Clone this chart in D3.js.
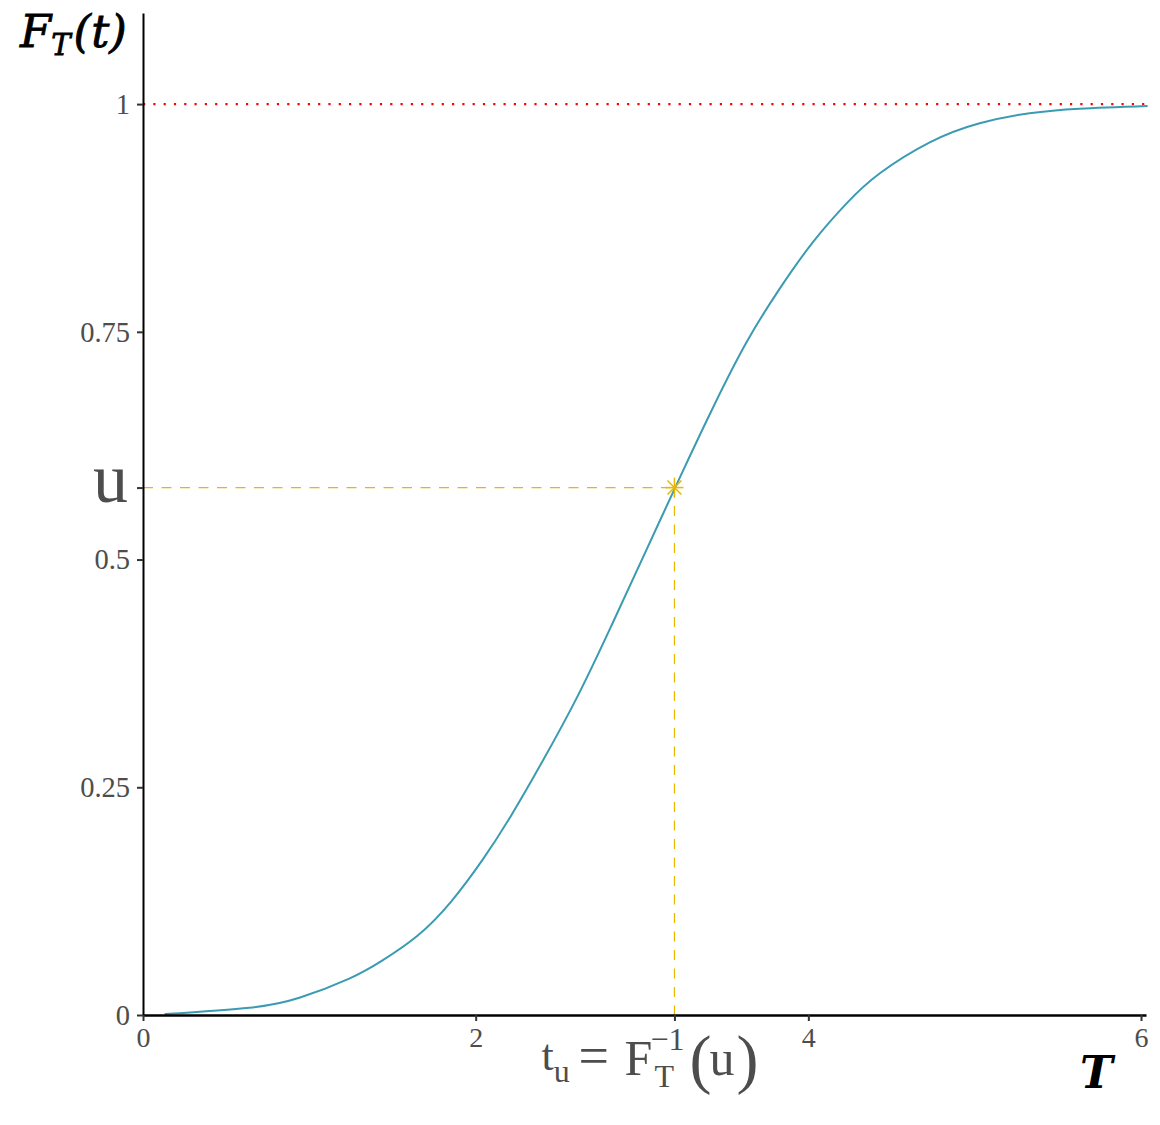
<!DOCTYPE html>
<html><head><meta charset="utf-8">
<script src="https://cdn.jsdelivr.net/npm/d3@7"></script>
<style>body{margin:0;background:#fff}</style>
</head><body><svg id="c" width="1160" height="1125"></svg>
<script>
// Curve
const curveT = [0.13,0.64,0.94,1.24,1.44,1.65,1.85,2.04,2.21,2.40,2.61,2.81,3.01,3.23,3.43,3.63,3.83,4.03,4.23,4.43,4.73,5.03,5.33,5.63,6.04];
const curveF = [0.001,0.008,0.019,0.040,0.060,0.087,0.124,0.170,0.218,0.278,0.349,0.425,0.504,0.591,0.668,0.739,0.798,0.849,0.891,0.924,0.958,0.979,0.990,0.995,0.998];
const xTicks = [0,2,4,6];
const xTickLabels = ["0","2","4","6"];
const yTicks = [0,0.25,0.5,0.75,1];
const yTickLabels = ["0","0.25","0.5","0.75","1"];
const pointT = [3.195];
const pointU = [0.579];
const refLevel = [1];

const svg = d3.select("#c");
const x = d3.scaleLinear().domain([0,6.03]).range([143,1146]);
const y = d3.scaleLinear().domain([0,1.1]).range([1015,13]);
const serif = "'Liberation Serif','Times New Roman',serif";
const mathSerif = "'DejaVu Serif',serif";
const gray = "#4d4d4d";

// reference dotted line
svg.selectAll(".ref").data(refLevel).enter().append("line")
  .attr("x1",x(0)).attr("x2",x.range()[1]).attr("y1",d=>y(d)).attr("y2",d=>y(d))
  .attr("stroke","#ff0000").attr("stroke-width",2.2).attr("stroke-dasharray","2.2,8.1");

// dashed guides
const gold = "#E7B800";
pointT.forEach((t,i)=>{
  const u = pointU[i];
  svg.append("line").attr("x1",x(0)).attr("x2",x(t)).attr("y1",y(u)).attr("y2",y(u))
    .attr("stroke",gold).attr("stroke-width",1.2).attr("stroke-dasharray","10,8.5");
  svg.append("line").attr("x1",x(t)).attr("x2",x(t)).attr("y1",y(u)).attr("y2",y(0))
    .attr("stroke",gold).attr("stroke-width",1.2).attr("stroke-dasharray","10,8.5");
});

// curve
const pts = curveT.map((t,i)=>[t,curveF[i]]);
svg.append("path").datum(pts)
  .attr("d", d3.line().x(d=>x(d[0])).y(d=>y(d[1])).curve(d3.curveNatural))
  .attr("fill","none").attr("stroke","#3a9bb2").attr("stroke-width",2);

// asterisk marker
pointT.forEach((t,i)=>{
  const cx = x(t), cy = y(pointU[i]);
  const g = svg.append("g").attr("transform",`translate(${cx},${cy})`)
    .attr("stroke",gold).attr("stroke-width",1.5);
  g.append("line").attr("x1",-9).attr("x2",9).attr("y1",0).attr("y2",0);
  g.append("line").attr("x1",0).attr("x2",0).attr("y1",-10).attr("y2",10);
  g.append("line").attr("x1",-7).attr("x2",7).attr("y1",-7).attr("y2",7);
  g.append("line").attr("x1",-7).attr("x2",7).attr("y1",7).attr("y2",-7);
});

// y axis
const yAxis = d3.axisLeft(y).tickValues(yTicks.concat(pointU)).tickSize(6).tickSizeOuter(0).tickPadding(7)
  .tickFormat((d,i)=> i < yTicks.length ? yTickLabels[i] : "u");
const gy = svg.append("g").attr("transform",`translate(${x(0)},0)`).call(yAxis);
gy.select(".domain").attr("stroke","#000").attr("stroke-width",2);
gy.selectAll(".tick line").attr("stroke","#333").attr("stroke-width",2);
gy.selectAll(".tick text").attr("fill",gray).style("font-family",serif).style("font-size","28.5px")
  .attr("dy","0.33em");
gy.selectAll(".tick text").filter((d,i)=>i>=yTicks.length)
  .style("font-size","70px").attr("dy","0.2em").attr("x",-15);

// x axis
const xAxis = d3.axisBottom(x).tickValues(xTicks.concat(pointT)).tickSize(6).tickSizeOuter(0).tickPadding(6)
  .tickFormat((d,i)=> i < xTicks.length ? xTickLabels[i] : "");
const gx = svg.append("g").attr("transform",`translate(0,${y(0)})`).call(xAxis);
gx.select(".domain").attr("stroke","#000").attr("stroke-width",2.5);
gx.selectAll(".tick line").attr("stroke","#333").attr("stroke-width",2);
gx.selectAll(".tick text").attr("fill",gray).style("font-family",serif).style("font-size","28px").attr("dy","0.72em");

// special x label t_u = F_T^{-1}(u)
pointT.forEach(t=>{
  const lx = x(t) - 133, base = y(0) + 60;
  const g = svg.append("g").attr("fill",gray).style("font-family",serif);
  const a = g.append("text").attr("x",lx).attr("y",base-5);
  a.append("tspan").style("font-size","44px").text("t");
  a.append("tspan").style("font-size","32px").attr("dy",12).text("u");
  g.append("text").attr("x",lx+37).attr("y",base-1).style("font-size","54px").text("=");
  g.append("text").attr("x",lx+83).attr("y",base).style("font-size","50px").text("F");
  g.append("text").attr("x",lx+109).attr("y",base-25).style("font-size","32px").text("−1");
  g.append("text").attr("x",lx+113).attr("y",base+12).style("font-size","32px").text("T");
  const b = g.append("text").attr("x",lx+148).attr("y",base);
  b.append("tspan").style("font-size","66px").attr("dy",6).text("(");
  b.append("tspan").style("font-size","50px").attr("dy",-6).attr("dx",-2).text("u");
  b.append("tspan").style("font-size","66px").attr("dy",6).attr("dx",2).text(")");
});

// axis titles
const yt = svg.append("text").attr("x",20).attr("y",47)
  .style("font-family",mathSerif).style("font-style","italic").attr("fill","#000")
  .attr("stroke","#000").attr("stroke-width",0.8);
yt.append("tspan").style("font-size","45px").text("F");
yt.append("tspan").style("font-size","29px").attr("dy",8).text("T");
yt.append("tspan").style("font-size","45px").attr("dy",-8).attr("dx",3).text("(t)");

svg.append("text").attr("x",1080).attr("y",1088)
  .style("font-family",mathSerif).style("font-style","italic").style("font-weight","bold")
  .style("font-size","44px").attr("fill","#000").text("T");
</script></body></html>
